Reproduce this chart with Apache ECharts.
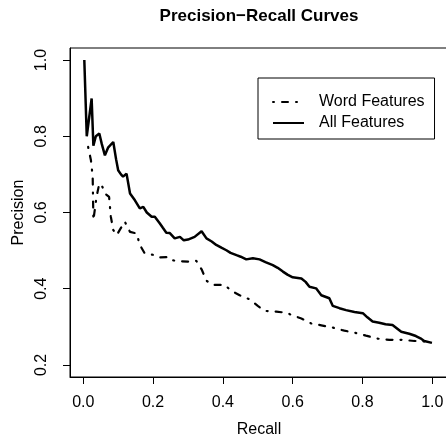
<!DOCTYPE html>
<html>
<head>
<meta charset="utf-8">
<script src="https://cdn.jsdelivr.net/npm/echarts@6/dist/echarts.min.js"></script>
<style>
  html, body { margin: 0; padding: 0; background: #fff; }
  #prChart { width: 446px; height: 436px; }
</style>
</head>
<body>
<div id="prChart"></div>
<script>
  // recall / precision
  var allRecall = [0.003, 0.010, 0.024, 0.029, 0.036, 0.046, 0.053, 0.062, 0.071, 0.086, 0.094, 0.100, 0.108, 0.114, 0.124, 0.134, 0.148, 0.162, 0.172, 0.182, 0.196, 0.205, 0.219, 0.228, 0.238, 0.248, 0.262, 0.277, 0.288, 0.300, 0.319, 0.339, 0.353, 0.368, 0.381, 0.397, 0.410, 0.422, 0.439, 0.451, 0.467, 0.486, 0.505, 0.522, 0.543, 0.557, 0.572, 0.585, 0.600, 0.625, 0.637, 0.648, 0.667, 0.682, 0.705, 0.715, 0.734, 0.753, 0.777, 0.801, 0.814, 0.829, 0.848, 0.866, 0.886, 0.911, 0.934, 0.953, 0.966, 0.977, 0.999];
  var allPrecision = [1.000, 0.800, 0.899, 0.775, 0.800, 0.807, 0.780, 0.750, 0.770, 0.785, 0.740, 0.711, 0.700, 0.694, 0.702, 0.650, 0.632, 0.611, 0.615, 0.600, 0.589, 0.589, 0.572, 0.560, 0.547, 0.546, 0.532, 0.536, 0.527, 0.529, 0.536, 0.551, 0.532, 0.524, 0.515, 0.507, 0.501, 0.494, 0.488, 0.484, 0.477, 0.480, 0.477, 0.470, 0.462, 0.455, 0.445, 0.437, 0.430, 0.427, 0.418, 0.405, 0.401, 0.383, 0.375, 0.355, 0.349, 0.344, 0.339, 0.336, 0.325, 0.314, 0.311, 0.307, 0.305, 0.287, 0.282, 0.276, 0.270, 0.263, 0.258];

  var wordRecall = [0.014, 0.022, 0.027, 0.029, 0.038, 0.046, 0.055, 0.062, 0.074, 0.079, 0.086, 0.096, 0.105, 0.119, 0.134, 0.153, 0.162, 0.176, 0.200, 0.219, 0.243, 0.253, 0.277, 0.300, 0.324, 0.339, 0.353, 0.372, 0.405, 0.424, 0.448, 0.477, 0.500, 0.520, 0.553, 0.582, 0.600, 0.625, 0.653, 0.682, 0.715, 0.748, 0.777, 0.810, 0.844, 0.877, 0.915, 0.949, 0.977, 0.999];
  var wordPrecision = [0.772, 0.737, 0.694, 0.580, 0.641, 0.676, 0.667, 0.650, 0.641, 0.589, 0.554, 0.541, 0.555, 0.576, 0.549, 0.545, 0.515, 0.493, 0.489, 0.482, 0.483, 0.475, 0.472, 0.471, 0.473, 0.451, 0.421, 0.410, 0.410, 0.395, 0.383, 0.372, 0.355, 0.342, 0.340, 0.337, 0.330, 0.322, 0.309, 0.304, 0.298, 0.290, 0.285, 0.277, 0.269, 0.266, 0.266, 0.263, 0.262, 0.258];

  var xTicks = [0, 0.2, 0.4, 0.6, 0.8, 1.0];
  var yTicks = [0.2, 0.4, 0.6, 0.8, 1.0];

  function pairs(xs, ys) {
    return xs.map(function (x, i) { return [x, ys[i]]; });
  }

  var font = "'Liberation Sans', Arial, Helvetica, sans-serif";
  var chart = echarts.init(document.getElementById("prChart"), null, {renderer: "canvas"});

  chart.setOption({
    animation: false,
    backgroundColor: "#fff",
    textStyle: {fontFamily: font, color: "#000"},
    title: {
      text: "Precision\u2212Recall Curves",
      left: 259,
      textAlign: "center",
      top: 8,
      padding: 0,
      textStyle: {fontFamily: font, fontSize: 17, fontWeight: "bold", color: "#000"}
    },
    grid: {
      left: 70, top: 48, width: 378, height: 329,
      outerBoundsMode: "none",
      show: true, borderColor: "#000", borderWidth: 1, backgroundColor: "transparent"
    },
    legend: {
      left: 258, top: 78,
      orient: "vertical",
      data: ["Word Features", "All Features"],
      itemWidth: 31, itemHeight: 14, itemGap: 5,
      padding: [16, 10, 8, 14],
      borderColor: "#000", borderWidth: 1, borderRadius: 0,
      // hide the marker that ECharts puts on a line legend icon
      itemStyle: {color: "transparent", borderColor: "transparent", borderWidth: 0},
      textStyle: {fontFamily: font, fontSize: 16, color: "#000", padding: [0, 0, 0, 10]}
    },
    xAxis: {
      type: "value",
      min: -0.038, max: 1.045,
      name: "Recall", nameLocation: "middle", nameGap: 45,
      nameTextStyle: {fontFamily: font, fontSize: 16, color: "#000"},
      axisLine: {show: true, onZero: false, lineStyle: {color: "#000", width: 1}},
      axisTick: {show: true, length: 7, customValues: xTicks, lineStyle: {color: "#000"}},
      axisLabel: {
        customValues: xTicks, margin: 18, fontFamily: font, fontSize: 16, color: "#000",
        formatter: function (v) { return v.toFixed(1); }
      },
      splitLine: {show: false}
    },
    yAxis: {
      type: "value",
      min: 0.1685, max: 1.0315,
      name: "Precision", nameLocation: "middle", nameGap: 37,
      nameTextStyle: {fontFamily: font, fontSize: 16, color: "#000"},
      axisLine: {show: true, onZero: false, lineStyle: {color: "#000", width: 1}},
      axisTick: {show: true, length: 7, customValues: yTicks, lineStyle: {color: "#000"}},
      axisLabel: {
        customValues: yTicks, rotate: 90, margin: 20, fontFamily: font, fontSize: 16, color: "#000",
        formatter: function (v) { return v.toFixed(1); }
      },
      splitLine: {show: false}
    },
    series: [
      {
        name: "Word Features",
        type: "line",
        symbol: "none",
        data: pairs(wordRecall, wordPrecision),
        lineStyle: {color: "#000", width: 2.2, type: [1, 8, 6, 8], cap: "round"},
        itemStyle: {color: "#000"}
      },
      {
        name: "All Features",
        type: "line",
        symbol: "none",
        data: pairs(allRecall, allPrecision),
        lineStyle: {color: "#000", width: 2.5, type: "solid"},
        itemStyle: {color: "#000"}
      }
    ]
  });
</script>
</body>
</html>
